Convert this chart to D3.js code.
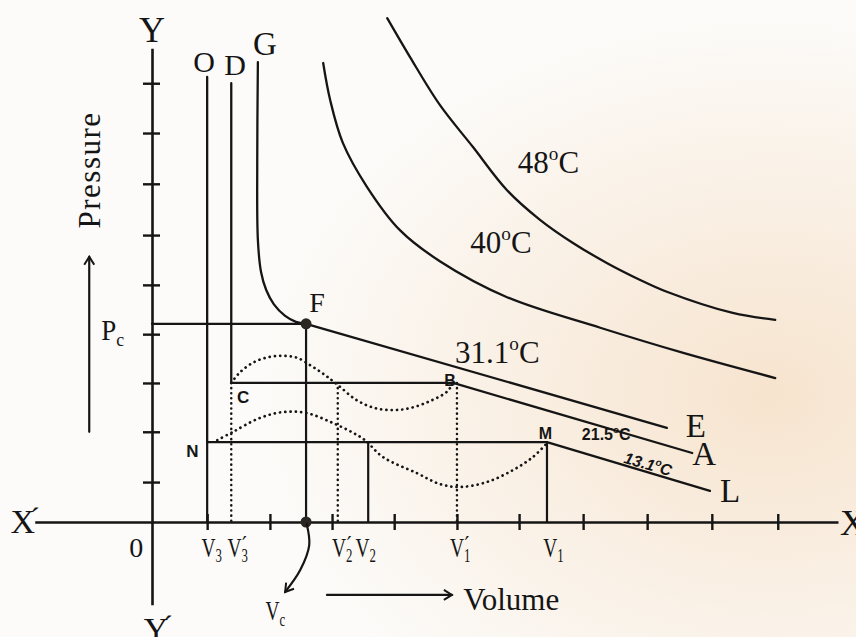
<!DOCTYPE html>
<html>
<head>
<meta charset="utf-8">
<script src="https://cdn.jsdelivr.net/npm/d3@7"></script>
<style>
  html, body { margin: 0; padding: 0; background: #fcfbf9; }
  svg { display: block; }
  .serif { font-family: "Liberation Serif", "Times New Roman", serif; fill: #151515; }
  .sans { font-family: "Liberation Sans", Arial, sans-serif; font-weight: bold; fill: #151515; }
</style>
</head>
<body>
<svg id="chart" width="856" height="637"></svg>
<script>
// volume / pressure in arbitrary units
const xTicks = [0.87, 1.86, 2.84, 3.82, 4.81, 5.79, 6.80, 7.81, 8.83, 9.87];
const yTicks = [0.81, 1.83, 2.82, 3.81, 4.81, 5.82, 6.86, 7.89, 8.90];
const xExtent = [-1.85, 10.82];
const yExtent = [-1.68, 9.61];

const iso48 = [[3.71, 10.22], [4.07, 9.43], [4.54, 8.46], [5.06, 7.61], [5.60, 6.73], [6.12, 6.13], [6.64, 5.66], [7.18, 5.25], [7.70, 4.91], [8.12, 4.67], [9.16, 4.24], [9.83, 4.10]];
const iso40 = [[2.70, 9.31], [2.81, 8.56], [3.01, 7.69], [3.39, 6.80], [3.91, 5.92], [4.54, 5.29], [5.60, 4.56], [7.07, 3.94], [8.38, 3.43], [9.83, 2.92]];
const iso31Curve = [[1.67, 9.33], [1.66, 7.34], [1.67, 5.72], [1.72, 5.07], [1.80, 4.71], [1.92, 4.42], [2.10, 4.18], [2.27, 4.06], [2.43, 4.02]];
const iso31Line = [[2.43, 4.02], [8.12, 1.91]];
const iso21 = [[1.25, 8.90], [1.25, 2.82], [4.75, 2.82], [8.52, 1.40]];
const iso13 = [[0.87, 9.03], [0.87, 1.62], [6.23, 1.62], [8.80, 0.63]];
const vdw21 = [[1.25, 2.82], [1.39, 3.04], [1.62, 3.25], [1.86, 3.35], [2.07, 3.37], [2.29, 3.33], [2.52, 3.16], [2.73, 2.98], [2.93, 2.78], [3.23, 2.47], [3.52, 2.31], [3.80, 2.27], [4.07, 2.31], [4.38, 2.45], [4.65, 2.64], [4.75, 2.82]];
const vdw13 = [[1.03, 1.66], [1.28, 1.83], [1.70, 2.11], [2.07, 2.23], [2.44, 2.21], [2.85, 2.01], [3.17, 1.81], [3.36, 1.66], [3.64, 1.32], [4.18, 0.99], [4.54, 0.77], [4.86, 0.71], [5.28, 0.81], [5.69, 1.05], [6.01, 1.32], [6.23, 1.60]];

const solidDrops = [[0.87, 1.62], [2.43, 4.02], [3.41, 1.62], [6.23, 1.62]];
const dottedDrops = [[1.25, 2.82], [2.93, 2.82], [4.81, 2.82]];
const pc = 4.02, vc = 2.43;
const dots = [[vc, pc], [vc, 0]];

const labels = [
  { text: "Y", vx: 0, vy: 9.74, size: 36, anchor: "middle", cls: "serif" },
  { text: "Y'", vx: 0.10, vy: -2.42, size: 34, anchor: "middle", cls: "serif", prime: -0.16 },
  { text: "X'", vx: -2.23, vy: -0.22, size: 34, cls: "serif", prime: -0.16 },
  { text: "X", vx: 10.85, vy: -0.26, size: 36, cls: "serif" },
  { text: "0", vx: -0.25, vy: -0.71, size: 28, anchor: "middle", cls: "serif" },
  { text: "O", vx: 0.82, vy: 9.13, size: 30, anchor: "middle", cls: "serif" },
  { text: "D", vx: 1.31, vy: 9.07, size: 30, anchor: "middle", cls: "serif" },
  { text: "G", vx: 1.78, vy: 9.47, size: 33, anchor: "middle", cls: "serif" },
  { text: "F", vx: 2.48, vy: 4.26, size: 28, cls: "serif" },
  { text: "P_c", vx: -0.80, vy: 3.69, size: 30, cls: "serif", sx: 0.9 },
  { text: "48^oC", vx: 5.77, vy: 7.08, size: 31, cls: "serif" },
  { text: "40^oC", vx: 5.02, vy: 5.46, size: 31, cls: "serif" },
  { text: "31.1^oC", vx: 4.78, vy: 3.23, size: 31, cls: "serif" },
  { text: "E", vx: 8.42, vy: 1.72, size: 33, cls: "serif" },
  { text: "A", vx: 8.52, vy: 1.16, size: 33, cls: "serif" },
  { text: "L", vx: 8.96, vy: 0.41, size: 33, cls: "serif" },
  { text: "C", vx: 1.34, vy: 2.41, size: 17, cls: "sans" },
  { text: "B", vx: 4.61, vy: 2.76, size: 16, cls: "sans" },
  { text: "N", vx: 0.54, vy: 1.32, size: 17, cls: "sans" },
  { text: "M", vx: 6.10, vy: 1.68, size: 16, cls: "sans" },
  { text: "21.5^oC", vx: 6.78, vy: 1.66, size: 16, cls: "sans" },
  { text: "13.1^oC", vx: 7.43, vy: 1.20, size: 16, cls: "sans", italic: true, rot: 16 },
  { text: "V_3", vx: 0.78, vy: -0.71, size: 27, cls: "serif", sx: 0.72 },
  { text: "V_3'", vx: 1.19, vy: -0.71, size: 27, cls: "serif", sx: 0.72 },
  { text: "V_2'", vx: 2.84, vy: -0.71, size: 27, cls: "serif", sx: 0.72 },
  { text: "V_2", vx: 3.21, vy: -0.71, size: 27, cls: "serif", sx: 0.72 },
  { text: "V_1'", vx: 4.70, vy: -0.71, size: 27, cls: "serif", sx: 0.72 },
  { text: "V_1", vx: 6.17, vy: -0.71, size: 27, cls: "serif", sx: 0.72 },
  { text: "V_c", vx: 1.79, vy: -1.99, size: 27, cls: "serif", sx: 0.72 },
  { text: "Pressure", vx: -0.82, vy: 7.14, size: 31, anchor: "middle", cls: "serif", rot: -90, spacing: 1.5 },
  { text: "Volume", vx: 4.91, vy: -1.79, size: 31, cls: "serif" }
];

const pressureArrow = [[-0.99, 1.83], [-0.99, 5.38]];
const volumeArrow = [[2.76, -1.48], [4.73, -1.48]];
const vcArrow = [[2.44, -0.04], [2.48, -0.47], [2.34, -0.97], [2.10, -1.42]];

const svg = d3.select("#chart");
const width = +svg.attr("width");
const height = +svg.attr("height");

const x = d3.scaleLinear().domain([0, 10]).range([152, 786]);
const y = d3.scaleLinear().domain([0, 10]).range([522, 29]);

// paper tint
const defs = svg.append("defs");
const grad = defs.append("radialGradient").attr("id", "tint")
  .attr("cx", 0.9).attr("cy", 0.62).attr("r", 0.6);
grad.append("stop").attr("offset", "0%").attr("stop-color", "#f5dcc0").attr("stop-opacity", 0.75);
grad.append("stop").attr("offset", "100%").attr("stop-color", "#f5dcc0").attr("stop-opacity", 0);
defs.append("marker").attr("id", "head")
  .attr("viewBox", "0 0 12 12").attr("refX", 10).attr("refY", 6)
  .attr("markerWidth", 12).attr("markerHeight", 12).attr("markerUnits", "userSpaceOnUse")
  .attr("orient", "auto")
  .append("path").attr("d", "M2,1 L10,6 L2,11")
  .attr("fill", "none").attr("stroke", "#151515").attr("stroke-width", 2);

svg.append("rect").attr("width", width).attr("height", height).attr("fill", "#fcfbf9");
svg.append("rect").attr("width", width).attr("height", height).attr("fill", "url(#tint)");

const g = svg.append("g");

// Axes
const xa = d3.scaleLinear().domain(xExtent).range(xExtent.map(x));
const ya = d3.scaleLinear().domain(yExtent).range(yExtent.map(y));

const xAxis = g.append("g").attr("transform", `translate(0,${y(0)})`)
  .call(d3.axisBottom(xa).tickValues(xTicks).tickSizeOuter(0).tickFormat(""));
xAxis.selectAll(".tick line").attr("y1", -8).attr("y2", 8);

const yAxis = g.append("g").attr("transform", `translate(${x(0)},0)`)
  .call(d3.axisLeft(ya).tickValues(yTicks).tickSizeOuter(0).tickFormat(""));
yAxis.selectAll(".tick line").attr("x1", -9).attr("x2", 8);

g.selectAll(".domain").attr("stroke", "#151515").attr("stroke-width", 2.6);
g.selectAll(".tick line").attr("stroke", "#151515").attr("stroke-width", 2.4);

const smooth = d3.line().x(d => x(d[0])).y(d => y(d[1])).curve(d3.curveCatmullRom.alpha(0.5));
const straight = d3.line().x(d => x(d[0])).y(d => y(d[1]));

function stroke(path, w) {
  return path.attr("fill", "none").attr("stroke", "#151515").attr("stroke-width", w)
    .attr("stroke-linejoin", "round").attr("stroke-linecap", "round");
}

// isotherms
[iso48, iso40, iso31Curve].forEach(d => stroke(g.append("path").attr("d", smooth(d)), 2.3));
[iso31Line, iso21, iso13].forEach(d => stroke(g.append("path").attr("d", straight(d)), 2.3));

// Pc line
stroke(g.append("path").attr("d", straight([[0, pc], [vc, pc]])), 2.3);

// drop lines
solidDrops.forEach(d => stroke(g.append("path").attr("d", straight([d, [d[0], 0]])), 2.2));
dottedDrops.forEach(d => stroke(g.append("path").attr("d", straight([d, [d[0], 0]])), 2.5)
  .attr("stroke-dasharray", "0.1 5"));

// van der Waals loops
[vdw21, vdw13].forEach(d => stroke(g.append("path").attr("d", smooth(d)), 2.7)
  .attr("stroke-dasharray", "0.1 5.2"));

// dots at critical point
g.selectAll("circle.pt").data(dots).join("circle").attr("class", "pt")
  .attr("cx", d => x(d[0])).attr("cy", d => y(d[1])).attr("r", 5.5).attr("fill", "#2a2622");

// arrows
stroke(g.append("path").attr("d", straight(pressureArrow)), 2.2).attr("marker-end", "url(#head)");
stroke(g.append("path").attr("d", straight(volumeArrow)), 2.2).attr("marker-end", "url(#head)");
stroke(g.append("path").attr("d", smooth(vcArrow)), 2.2).attr("marker-end", "url(#head)");

// labels: ^ superscript, _ subscript, ' prime
function addLabel(d) {
  const px = x(d.vx), py = y(d.vy);
  const t = g.append("text").attr("class", d.cls).attr("font-size", d.size)
    .attr("transform", `translate(${px},${py}) rotate(${d.rot || 0}) scale(${d.sx || 1},1)`);
  if (d.anchor) t.attr("text-anchor", d.anchor);
  if (d.italic) t.attr("font-style", "italic");
  if (d.spacing) t.attr("letter-spacing", d.spacing);
  let shift = 0;
  const s = d.text;
  for (let i = 0; i < s.length; i++) {
    let c = s[i], target = 0, fs = d.size, dx = 0;
    if (c === "^") { c = s[++i]; target = -0.42 * d.size; fs = 0.62 * d.size; }
    else if (c === "_") { c = s[++i]; target = 0.2 * d.size; fs = 0.66 * d.size; }
    else if (c === "'") { c = "\u00b4"; target = -0.12 * d.size; fs = 0.9 * d.size; dx = (d.prime || -0.34) * d.size; }
    const ts = t.append("tspan").attr("font-size", fs).attr("dy", target - shift).text(c);
    if (dx) ts.attr("dx", dx);
    shift = target;
  }
}
labels.forEach(addLabel);
</script>
</body>
</html>
